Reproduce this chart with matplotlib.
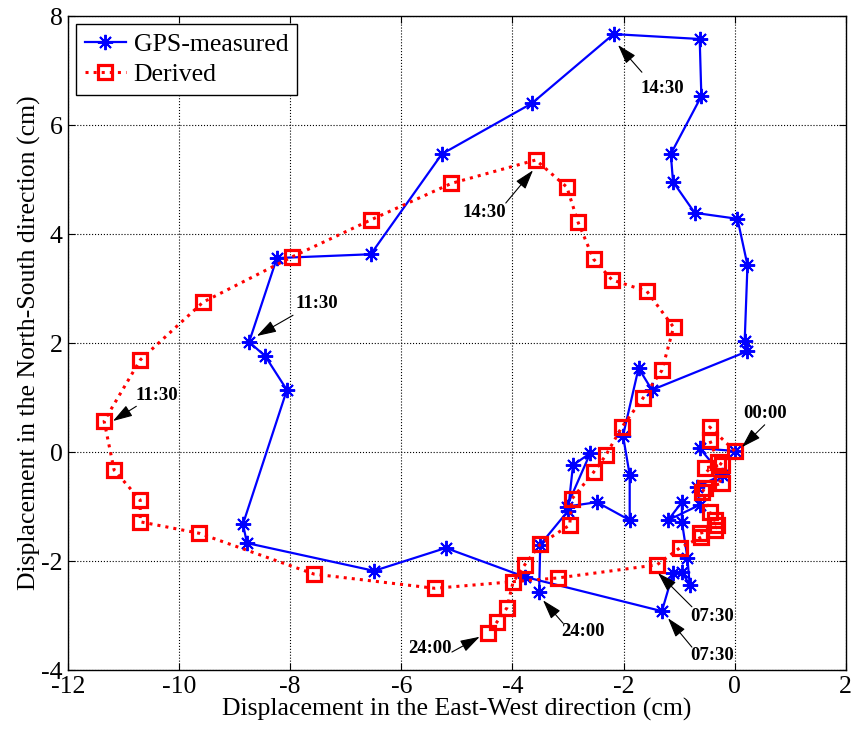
import matplotlib
matplotlib.use('Agg')
import matplotlib.pyplot as plt

plt.rcParams['font.family'] = ['Liberation Serif', 'DejaVu Serif']
plt.rcParams['axes.unicode_minus'] = False

# GPS-measured track (cm), 00:00 -> 24:00
gps_x = [0.0, -0.63, -0.23, -0.68, -0.63, -1.2, -0.95, -0.95, -0.85, -0.81, -0.95, -1.11, -1.31,
         -3.78, -5.2, -6.49, -8.78, -8.85, -8.06, -8.45, -8.74,
         -8.24, -6.55, -5.27, -3.65, -2.18,
         -0.63, -0.6, -1.15, -1.11, -0.72, 0.05, 0.23, 0.18, 0.23, -1.49, -1.73, -2.01,
         -1.89, -1.89, -2.48, -3.02, -2.6, -2.91, -3.0, -3.5, -3.52]
gps_y = [0.02, 0.07, -0.42, -0.64, -0.97, -1.25, -0.92, -1.28, -1.95, -2.44, -2.2, -2.22, -2.92,
         -2.29, -1.76, -2.18, -1.67, -1.32, 1.14, 1.76, 2.02,
         3.56, 3.63, 5.47, 6.4, 7.67,
         7.58, 6.53, 5.47, 4.96, 4.39, 4.28, 3.43, 2.04, 1.85, 1.14, 1.54, 0.3,
         -0.42, -1.25, -0.92, -1.0, -0.02, -0.24, -1.08, -1.7, -2.57]

# derived track (cm), every 30 min
der_x = [0.0, -0.45, -0.45, -0.3, -0.22, -0.54, -0.22, -0.54, -0.58, -0.45, -0.36, -0.32, -0.36,
         -0.63, -0.6, -0.99, -1.4,
         -3.18, -5.4, -7.57, -9.64, -10.7, -10.7, -11.17, -11.35,
         -10.7, -9.57, -7.97, -6.55, -5.1, -3.58,
         -3.02, -2.82, -2.54, -2.21, -1.58, -1.1, -1.31, -1.65, -2.03, -2.32, -2.54, -2.93,
         -2.97, -3.5, -3.78, -3.99, -4.1, -4.28, -4.44]
der_y = [0.02, 0.46, 0.22, -0.18, -0.24, -0.29, -0.57, -0.66, -0.73, -1.1, -1.25, -1.34, -1.43,
         -1.49, -1.56, -1.76, -2.07,
         -2.31, -2.5, -2.24, -1.49, -1.28, -0.88, -0.33, 0.57,
         1.69, 2.75, 3.58, 4.26, 4.93, 5.36,
         4.86, 4.22, 3.54, 3.16, 2.95, 2.29, 1.5, 0.99, 0.46, -0.06, -0.37, -0.86,
         -1.34, -1.69, -2.07, -2.39, -2.86, -3.12, -3.32]

# time labels: text, text position, arrow tail, arrow head
labels = ['14:30', '14:30', '11:30', '11:30', '00:00', '07:30', '07:30', '24:00', '24:00']
label_pos = [(-1.31, 6.68), (-4.51, 4.39), (-7.52, 2.73), (-10.41, 1.03), (0.54, 0.7),
             (-0.4, -3.01), (-0.4, -3.74), (-5.49, -3.6), (-2.73, -3.3)]
arrow_tail = [(-1.67, 6.97), (-4.12, 4.57), (-7.95, 2.51), (-10.77, 0.84), (0.54, 0.5),
              (-0.77, -2.84), (-0.77, -3.58), (-5.09, -3.67), (-3.09, -3.14)]
arrow_head = [(-2.1, 7.47), (-3.63, 5.17), (-8.6, 2.13), (-11.19, 0.57), (0.13, 0.09),
              (-1.38, -2.22), (-1.2, -3.05), (-4.59, -3.39), (-3.45, -2.72)]

fig = plt.figure(figsize=(8.51, 7.29), dpi=100)
ax = fig.add_axes([0.0799, 0.0809, 0.914, 0.897])

ax.plot(gps_x, gps_y, color='blue', lw=1.6, marker=(8, 2, 0), markersize=11,
        markeredgewidth=1.4, label='GPS-measured')
ax.plot(der_x, der_y, color='red', lw=2.2, linestyle=':', marker='s', markersize=10.5,
        markerfacecolor='none', markeredgewidth=2.3, label='Derived')

for txt, p, t, h in zip(labels, label_pos, arrow_tail, arrow_head):
    ax.annotate('', xy=h, xytext=t,
                arrowprops=dict(arrowstyle='-|>,head_length=0.8,head_width=0.25',
                                color='black', lw=0.8, mutation_scale=15,
                                shrinkA=0, shrinkB=0))
    ax.text(p[0], p[1], txt, fontsize=13.5, fontweight='bold', ha='center', va='center')

ax.set_xlim(-12, 2)
ax.set_ylim(-4, 8)
ax.set_xticks(range(-12, 3, 2))
ax.set_yticks(range(-4, 9, 2))
ax.grid(True, color='black', linestyle=':', lw=0.8)
ax.tick_params(direction='in', top=True, right=True, length=5, labelsize=18.5, pad=4)
for s in ax.spines.values():
    s.set_linewidth(1.0)

ax.set_xlabel('Displacement in the East-West direction (cm)', fontsize=18.5, labelpad=0)
ax.set_ylabel('Displacement in the North-South direction (cm)', fontsize=18.5, labelpad=0)

leg = ax.legend(loc='upper left', fontsize=18.5, fancybox=False, framealpha=1,
                edgecolor='black', borderaxespad=0.3, handlelength=1.6,
                handletextpad=0.3, borderpad=0.35, labelspacing=0.3)
leg.get_frame().set_linewidth(1.0)

fig.savefig('out.png', dpi=100)
